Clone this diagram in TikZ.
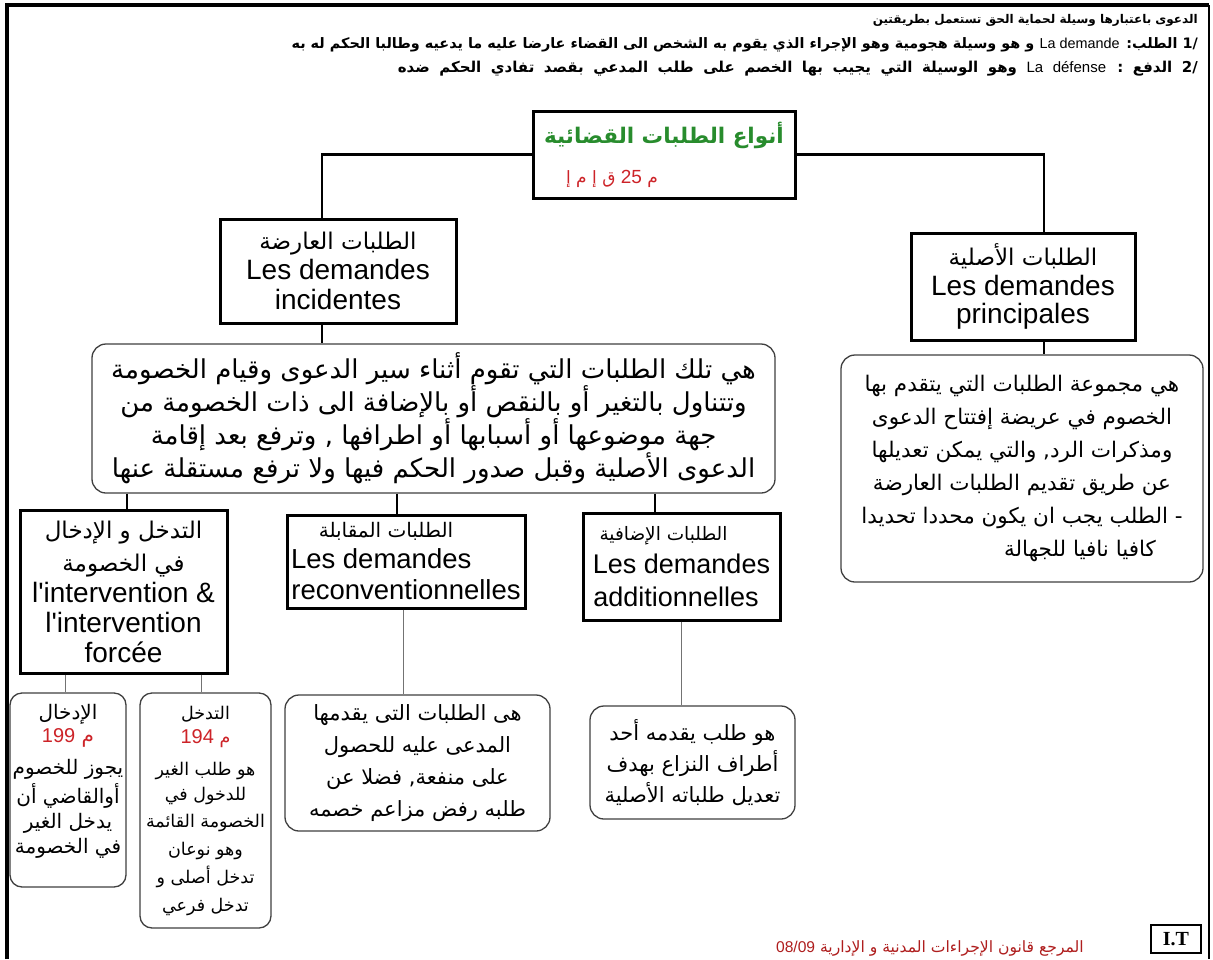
\documentclass[tikz,border=0pt]{standalone}
\usepackage{fontspec}
\setmainfont{Liberation Sans}
\newfontfamily\ar[Script=Arabic]{DejaVu Sans}
\newfontfamily\lat{Liberation Sans}
\newfontfamily\serifb{Liberation Serif}
\TeXXeTstate=1
\newcommand\artext[1]{{\ar\beginR #1\endR}}
\definecolor{titlegreen}{RGB}{40,140,45}
\definecolor{numred}{RGB}{205,35,40}
\definecolor{footred}{RGB}{175,30,30}
\tikzset{
  mainbox/.style={draw, line width=3pt, inner sep=0pt, align=center, fill=white},
  descbox/.style={draw=black!75, line width=1.3pt, rounded corners=14pt, inner sep=0pt, align=center, fill=white},
  conn/.style={line width=2.8pt},
  thinconn/.style={line width=1pt, draw=black!55},
  hdr/.style={inner sep=0pt, anchor=base east},
}
\begin{document}
\begin{tikzpicture}[x=1pt,y=-1pt]
\useasboundingbox (0,0) rectangle (1213,959);
\fill[white] (0,0) rectangle (1213,959);
% frame
\draw[line width=4pt] (7,959) -- (7,5) -- (1209,5);
\draw[line width=2pt] (1209,5) -- (1209,959);

% header
\node[hdr] (h1) at (1198,23) {\ar\bfseries\fontsize{12}{14}\selectfont\beginR الدعوى باعتبارها وسيلة لحماية الحق تستعمل بطريقتين\endR};
\node[hdr] (h2) at (1198,48) {\ar\bfseries\fontsize{14.4}{16}\selectfont\beginR /1 الطلب\kern0pt: \beginL{\lat\mdseries La demande}\endL{} و هو وسيلة هجومية وهو الإجراء الذي يقوم به الشخص الى القضاء عارضا عليه ما يدعيه وطالبا الحكم له به\endR};
\node[hdr] (h3) at (1198,72) {\ar\bfseries\fontsize{15}{16}\selectfont\spaceskip=9.5pt plus 1pt\beginR /2 الدفع : \beginL{\lat\mdseries La défense}\endL{} وهو الوسيلة التي يجيب بها الخصم على طلب المدعي بقصد تفادي الحكم ضده\endR};

% boxes
\node[mainbox, minimum width=262pt, minimum height=87pt, font=\fontsize{20}{40}\selectfont] (title) at (664,154.5)
  {{\color{titlegreen}\ar\bfseries\fontsize{21.5}{40}\selectfont\beginR أنواع الطلبات القضائية\endR}\\
   {\color{numred}\ar\fontsize{17}{20}\selectfont\beginR م {\lat\fontsize{19}{20}\selectfont 25} ق إ م إ\endR}\hspace*{104pt}};

\node[mainbox, minimum width=236pt, minimum height=104pt, font=\fontsize{28}{30}\selectfont] (inc) at (338,271)
  {\artext{\fontsize{23}{30}\selectfont الطلبات العارضة}\\
   {\lat Les demandes}\\
   {\lat incidentes}};

\node[mainbox, minimum width=224pt, minimum height=107pt, font=\fontsize{28}{30}\selectfont] (princ) at (1023,286.5)
  {\artext{\fontsize{23}{30}\selectfont الطلبات الأصلية}\\
   {\lat Les demandes}\\[-2pt]
   {\lat principales}};

\node[descbox, minimum width=683pt, minimum height=149pt, font=\fontsize{26}{33}\selectfont] (incdesc) at (433.5,418.5)
  {\artext{هي تلك الطلبات التي تقوم أثناء سير الدعوى وقيام الخصومة}\\
   \artext{وتتناول بالتغير أو بالنقص أو بالإضافة الى ذات الخصومة من}\\
   \artext{جهة موضوعها أو أسبابها أو اطرافها , وترفع بعد إقامة}\\
   \artext{الدعوى الأصلية وقبل صدور الحكم فيها ولا ترفع مستقلة عنها}};

\node[descbox, minimum width=362pt, minimum height=227pt, font=\fontsize{21.5}{33}\selectfont] (princdesc) at (1022,468.5)
  {\artext{هي مجموعة الطلبات التي يتقدم بها}\\
   \artext{الخصوم في عريضة إفتتاح الدعوى}\\
   \artext{ومذكرات الرد\kern0pt, والتي يمكن تعديلها}\\
   \artext{عن طريق تقديم الطلبات العارضة}\\
   \artext{- الطلب يجب ان يكون محددا تحديدا}\\
   \hspace*{116pt}\artext{كافيا نافيا للجهالة}};

\node[mainbox, minimum width=207pt, minimum height=163pt, font=\fontsize{28}{31}\selectfont] (interv) at (123.5,591.5)
  {\artext{\fontsize{23}{30}\selectfont التدخل و الإدخال}\\[2pt]
   \artext{\fontsize{23}{30}\selectfont في الخصومة}\\
   {\lat l'intervention \&}\\[-1pt]
   {\lat l'intervention}\\[-1pt]
   {\lat forcée}};

\node[mainbox, minimum width=238pt, minimum height=93pt, font=\fontsize{27.5}{31}\selectfont] (reconv) at (406,561.5)
  {\makebox[230pt][c]{\artext{\fontsize{20}{30}\selectfont الطلبات المقابلة}\hspace*{40pt}}\\
   \makebox[230pt][l]{\lat Les demandes}\\
   \makebox[230pt][c]{\lat reconventionnelles}};

\node[mainbox, minimum width=197pt, minimum height=107pt, font=\fontsize{27}{33}\selectfont] (addit) at (681.5,566.5)
  {\artext{\fontsize{18.5}{30}\selectfont الطلبات الإضافية}\hspace*{36pt}\\
   {\lat Les demandes}\\
   {\lat additionnelles}\hspace*{11pt}};

\node[descbox, minimum width=116pt, minimum height=194pt, rounded corners=12pt, font=\fontsize{20}{28}\selectfont] (idkhal) at (68,790)
  {\artext{الإدخال}\\[-5pt]
   {\color{numred}\ar\beginR م {\lat 199}\endR}\\[4pt]
   \artext{يجوز للخصوم}\\[1pt]
   \artext{أوالقاضي أن}\\[-3pt]
   \artext{يدخل الغير}\\[-3pt]
   \artext{في الخصومة}\\[-6pt]{}};

\node[descbox, minimum width=131pt, minimum height=235pt, rounded corners=12pt, font=\fontsize{17.5}{28}\selectfont] (tadakhul) at (205.5,810.5)
  {\artext{التدخل}\\[-4pt]
   {\color{numred}\ar\fontsize{17.5}{28}\selectfont\beginR م {\lat\fontsize{20}{24}\selectfont 194}\endR}\\[4pt]
   \artext{هو طلب الغير}\\[-3pt]
   \artext{للدخول في}\\[-1pt]
   \artext{الخصومة القائمة}\\
   \artext{وهو نوعان}\\
   \artext{تدخل أصلى و}\\
   \artext{تدخل فرعي}};

\node[descbox, minimum width=265pt, minimum height=136pt, font=\fontsize{21}{32}\selectfont] (recdesc) at (417.5,763)
  {\artext{هى الطلبات التى يقدمها}\\
   \artext{المدعى عليه للحصول}\\
   \artext{على منفعة\kern0pt, فضلا عن}\\
   \artext{طلبه رفض مزاعم خصمه}};

\node[descbox, minimum width=205pt, minimum height=113pt, font=\fontsize{21}{31}\selectfont] (adddesc) at (692.5,762.5)
  {\artext{هو طلب يقدمه أحد}\\
   \artext{أطراف النزاع بهدف}\\
   \artext{تعديل طلباته الأصلية}};

% connector x positions
\coordinate (xa) at (322,0);
\coordinate (xb) at (1044,0);
\coordinate (xc) at (127,0);
\coordinate (xd) at (397,0);
\coordinate (xe) at (655,0);
\coordinate (xf) at (403,0);
\coordinate (xg) at (681,0);
\coordinate (xh) at (65,0);
\coordinate (xi) at (201,0);

\draw[conn] (title.west) -| (xa |- inc.north);
\draw[conn] (title.east) -| (xb |- princ.north);
\draw[conn] (xa |- inc.south) -- (xa |- incdesc.north);
\draw[conn] (xb |- princ.south) -- (xb |- princdesc.north);
\draw[conn] (xc |- incdesc.south) -- (xc |- interv.north);
\draw[conn] (xd |- incdesc.south) -- (xd |- reconv.north);
\draw[conn] (xe |- incdesc.south) -- (xe |- addit.north);
\draw[thinconn] (xf |- reconv.south) -- (xf |- recdesc.north);
\draw[thinconn] (xg |- addit.south) -- (xg |- adddesc.north);
\draw[thinconn] (xh |- interv.south) -- (xh |- idkhal.north);
\draw[thinconn] (xi |- interv.south) -- (xi |- tadakhul.north);

% footer
\node[inner sep=0pt, anchor=base east] (foot) at (1084,952)
  {\color{footred}\ar\fontsize{15.6}{16}\selectfont\beginR المرجع قانون الإجراءات المدنية و الإدارية {\lat 08/09}\endR};
\node[draw, line width=1.5pt, minimum width=50pt, minimum height=28pt, inner sep=0pt] (it) at (1176,939)
  {\serifb\bfseries\fontsize{20}{22}\selectfont I.T};
\end{tikzpicture}
\end{document}
